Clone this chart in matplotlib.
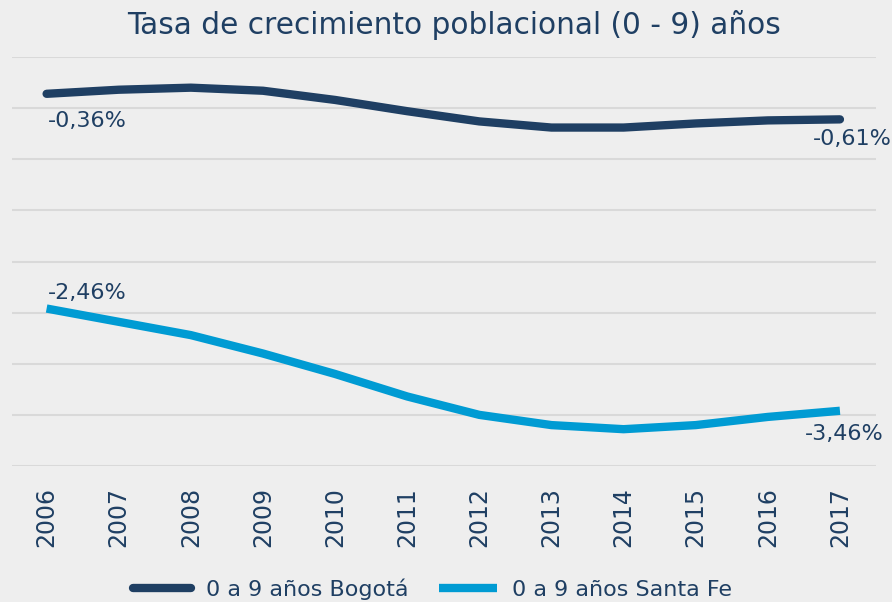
import matplotlib
matplotlib.use("Agg")
import matplotlib.pyplot as plt

years = ["2006", "2007", "2008", "2009", "2010", "2011", "2012", "2013", "2014", "2015", "2016", "2017"]
bogota = [-0.36, -0.32, -0.30, -0.33, -0.42, -0.53, -0.63, -0.69, -0.69, -0.65, -0.62, -0.61]
santa_fe = [-2.46, -2.59, -2.72, -2.90, -3.10, -3.32, -3.50, -3.60, -3.64, -3.60, -3.52, -3.46]
series_names = ["0 a 9 años Bogotá", "0 a 9 años Santa Fe"]
title = "Tasa de crecimiento poblacional (0 - 9) años"

navy = "#1f3f63"
blue = "#009bd3"
bg = "#eeeeee"
grid = "#d9d9d9"

plt.rcParams['font.family'] = ['DejaVu Sans']

fig = plt.figure(figsize=(8.92, 6.02), dpi=100, facecolor=bg)
W, H = 892, 602
ax = fig.add_axes([12 / W, (H - 466) / H, (876 - 12) / W, (466 - 57) / H])
ax.set_facecolor(bg)

x = list(range(len(years)))
ax.plot(x, bogota, color=navy, lw=6, solid_capstyle="round", solid_joinstyle="round", label=series_names[0], zorder=3)
ax.plot(x, santa_fe, color=blue, lw=6, solid_capstyle="butt", solid_joinstyle="round", label=series_names[1], zorder=3)

ax.set_xlim(-0.48, 11.5)
ax.set_ylim(-4, 0)
ax.set_yticks([0, -0.5, -1, -1.5, -2, -2.5, -3, -3.5, -4])
ax.yaxis.grid(True, color=grid, lw=1.5)
ax.set_axisbelow(True)
ax.tick_params(axis="y", left=False, labelleft=False)
ax.set_xticks(x)
ax.set_xticklabels(years, rotation=90, color=navy, fontsize=17)
ax.tick_params(axis="x", length=0, pad=15)
for s in ax.spines.values():
    s.set_visible(False)

def fmt(v):
    return f"{v:.2f}%".replace(".", ",")

lab_kw = dict(color=navy, fontsize=16, textcoords="offset points", va="center")
ax.annotate(fmt(bogota[0]), (0, bogota[0]), xytext=(1, -19.5), ha="left", **lab_kw)
ax.annotate(fmt(bogota[-1]), (11, bogota[-1]), xytext=(37.5, -14), ha="right", **lab_kw)
ax.annotate(fmt(santa_fe[0]), (0, santa_fe[0]), xytext=(1, 11), ha="left", **lab_kw)
ax.annotate(fmt(santa_fe[-1]), (11, santa_fe[-1]), xytext=(31.5, -16.5), ha="right", **lab_kw)

fig.text(454 / W, 1 - 25 / H, title, ha="center", va="center", color=navy, fontsize=21.3)

leg = fig.legend(loc="center", bbox_to_anchor=(0.485, 1 - 589 / H), ncol=2, frameon=False,
                 fontsize=16, handlelength=2.6, columnspacing=1.35, handletextpad=0.7)
for t in leg.get_texts():
    t.set_color(navy)
for h in leg.get_lines():
    h.set_linewidth(6)

fig.savefig("out.png", dpi=100, facecolor=bg)
